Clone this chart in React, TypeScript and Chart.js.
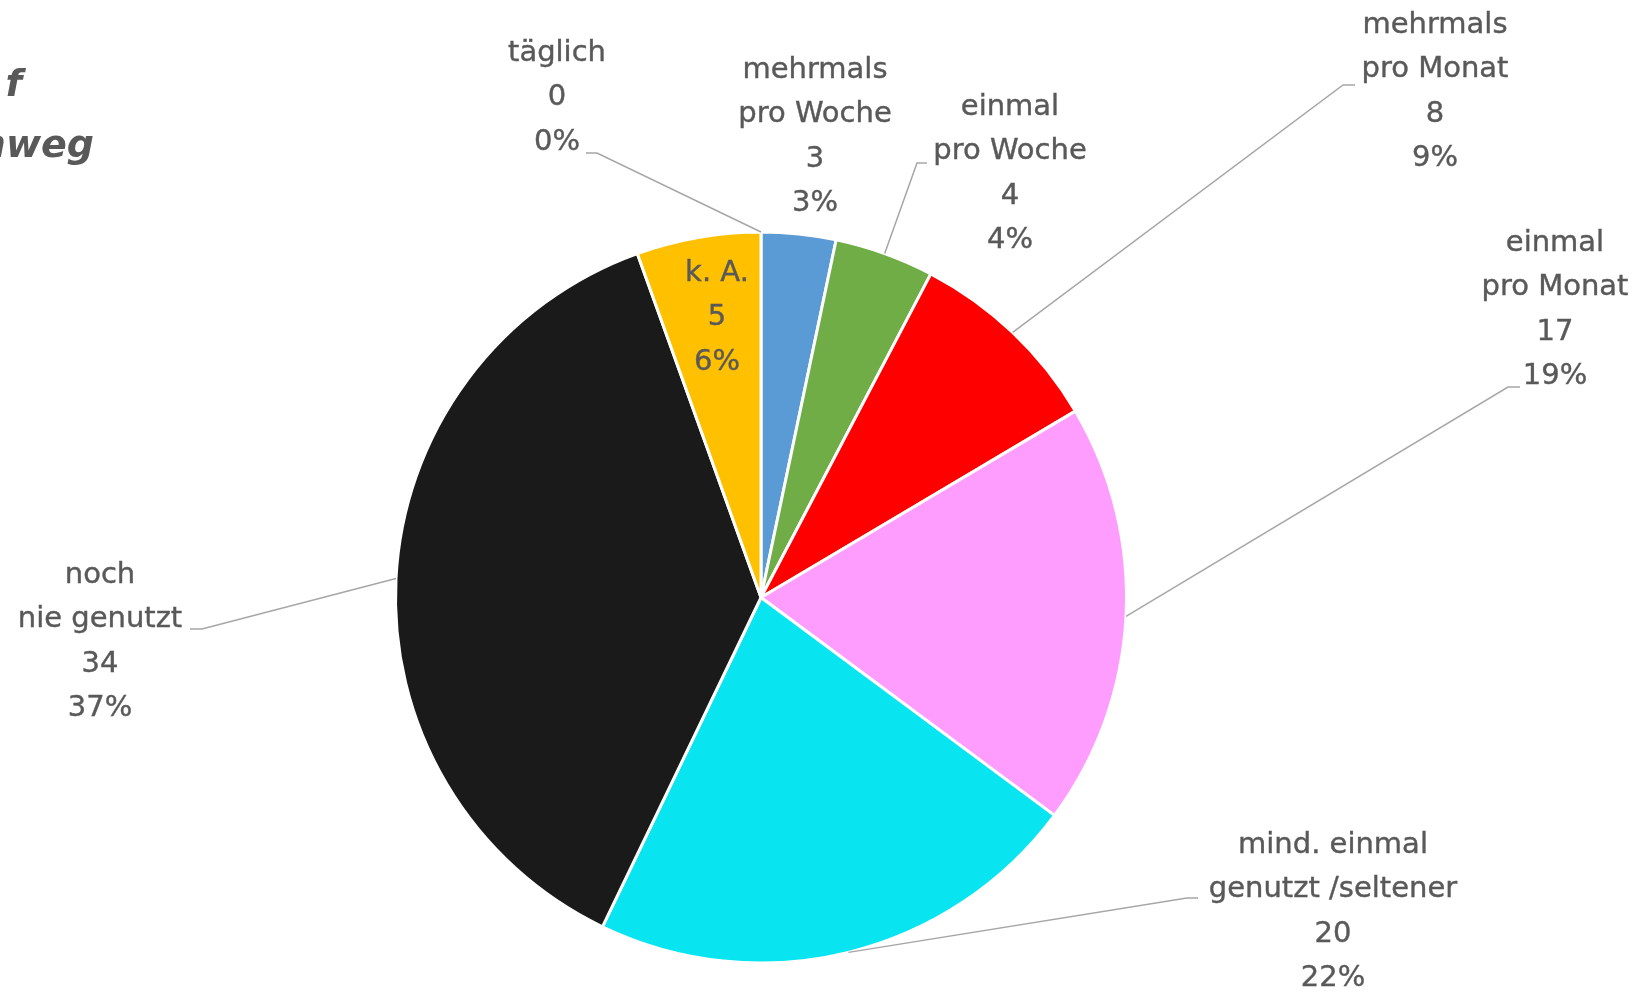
import React, { useEffect, useRef } from "react";
import { Chart, registerables } from "chart.js";

Chart.register(...registerables);

const categories: string[][] = [
  ["täglich"],
  ["mehrmals", "pro Woche"],
  ["einmal", "pro Woche"],
  ["mehrmals", "pro Monat"],
  ["einmal", "pro Monat"],
  ["mind. einmal", "genutzt /seltener"],
  ["noch", "nie genutzt"],
  ["k. A."],
];
const values = [0, 3, 4, 8, 17, 20, 34, 5];
const percentLabels = ["0%", "3%", "4%", "9%", "19%", "22%", "37%", "6%"];
const colors = ["#4472C4", "#5B9BD5", "#70AD47", "#FF0000", "#FF9DFF", "#08E4F0", "#1A1A1A", "#FFC000"];
const titleLines = ["f", "nweg"];

// label layout (text block centre x, first line centre y, optional leader: text-side x, elbow x, y)
const labelLayout = [
  { x: 557, y: 53, leader: { from: 586, elbow: 597, y: 153 } },
  { x: 815, y: 70, leader: null },
  { x: 1010, y: 107, leader: { from: 927, elbow: 917, y: 163 } },
  { x: 1435, y: 25, leader: { from: 1355, elbow: 1343, y: 85 } },
  { x: 1555, y: 243, leader: { from: 1520, elbow: 1508, y: 387 } },
  { x: 1333, y: 845, leader: { from: 1198, elbow: 1187, y: 898 } },
  { x: 100, y: 575, leader: { from: 190, elbow: 202, y: 629 } },
  { x: 717, y: 273, leader: null },
];

const FONT = '"DejaVu Sans", "Noto Sans", sans-serif';
const TEXT = "#595959";

const labelPlugin = {
  id: "pieLabels",
  afterDraw(chart: any) {
    const ctx = chart.ctx;
    const meta = chart.getDatasetMeta(0);
    ctx.save();
    // leader lines
    ctx.strokeStyle = "#A6A6A6";
    ctx.lineWidth = 1.5;
    meta.data.forEach((arc: any, i: number) => {
      const lay = labelLayout[i];
      if (!lay.leader) return;
      const p = arc.getProps(["x", "y", "startAngle", "endAngle", "outerRadius"], true);
      const mid = (p.startAngle + p.endAngle) / 2;
      const ex = p.x + Math.cos(mid) * p.outerRadius;
      const ey = p.y + Math.sin(mid) * p.outerRadius;
      ctx.beginPath();
      ctx.moveTo(lay.leader.from, lay.leader.y);
      ctx.lineTo(lay.leader.elbow, lay.leader.y);
      ctx.lineTo(ex, ey);
      ctx.stroke();
    });
    // label texts
    ctx.fillStyle = TEXT;
    ctx.strokeStyle = TEXT;
    ctx.lineWidth = 0.4;
    ctx.font = `29px ${FONT}`;
    ctx.textAlign = "center";
    ctx.textBaseline = "middle";
    values.forEach((v, i) => {
      const lay = labelLayout[i];
      const lines = [...categories[i], String(v), percentLabels[i]];
      lines.forEach((t, j) => {
        ctx.fillText(t, lay.x, lay.y + j * 44.5);
        ctx.strokeText(t, lay.x, lay.y + j * 44.5);
      });
    });
    // partially visible title
    ctx.font = `italic bold 38px ${FONT}`;
    ctx.textAlign = "right";
    ctx.textBaseline = "alphabetic";
    ctx.fillText(titleLines[0], 22, 96);
    ctx.fillText(titleLines[1], 94, 157);
    ctx.restore();
  },
};

export default function App() {
  const ref = useRef<HTMLCanvasElement>(null);
  useEffect(() => {
    document.body.style.margin = "0";
    const chart = new Chart(ref.current!, {
      type: "pie",
      data: {
        labels: categories.map((c) => c.join(" ")),
        datasets: [
          {
            data: values,
            backgroundColor: colors,
            borderColor: "#FFFFFF",
            borderWidth: 3,
          },
        ],
      },
      options: {
        responsive: false,
        animation: false,
        devicePixelRatio: 1,
        layout: { padding: { left: 394, right: 511, top: 230, bottom: 27 } },
        plugins: { legend: { display: false }, tooltip: { enabled: false } },
      },
      plugins: [labelPlugin],
    });
    return () => chart.destroy();
  }, []);
  return (
    <div style={{ position: "fixed", left: 0, top: 0, width: 1639, height: 992, background: "#fff" }}>
      <canvas ref={ref} width={1639} height={992} style={{ width: 1639, height: 992, display: "block" }} />
    </div>
  );
}
